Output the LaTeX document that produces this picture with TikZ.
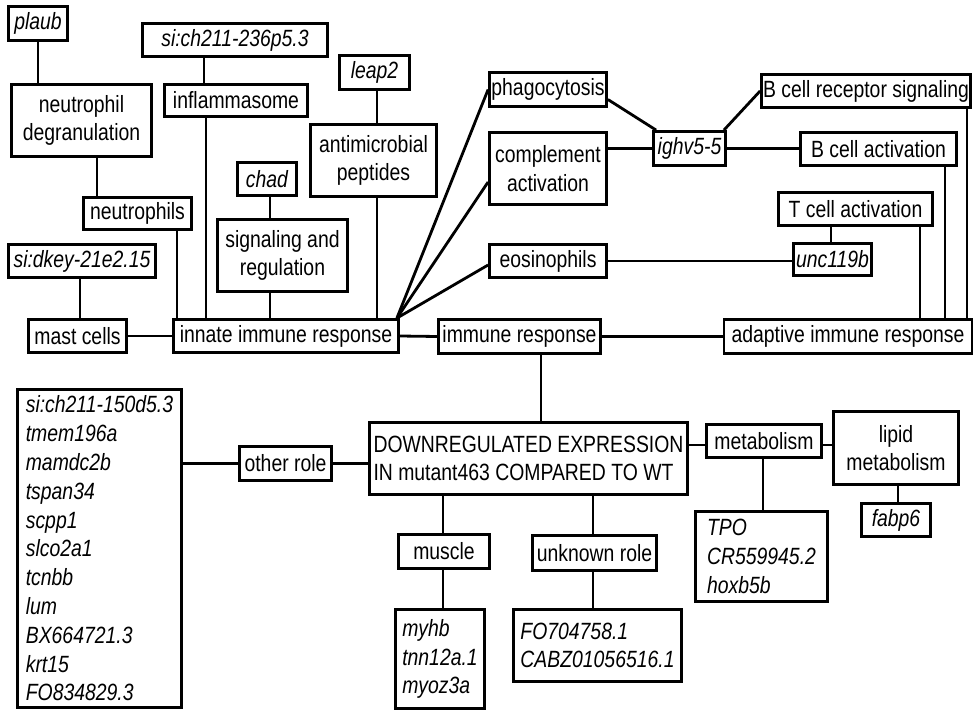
\documentclass[tikz,border=0pt]{standalone}
\usepackage{fontspec}
\setmainfont{Liberation Sans}[FakeStretch=0.825]
\usepackage{tikz}

\begin{document}
\fontsize{23.5}{28.8}\selectfont
\begin{tikzpicture}[x=1pt,y=-1pt,line width=2.8pt,
  box/.style={draw,inner sep=0pt,align=center},
  gene/.style={box,font=\itshape},
  genelist/.style={box,font=\itshape,align=left},
  wh/.style 2 args={minimum width=#1pt,minimum height=#2pt}]
\useasboundingbox (0,0) rectangle (976,711);

\node[gene,wh={59}{34}] (plaub) at (38,23.5) {plaub};
\node[box,wh={140}{72}] (ndeg) at (81.5,120.5) {neutrophil\\degranulation};
\node[gene,wh={185}{33}] (sich) at (235,40) {si:ch211-236p5.3};
\node[box,wh={143}{32}] (inflam) at (236,100.5) {inflammasome};
\node[gene,wh={70}{34}] (leap) at (374.5,72.5) {leap2};
\node[box,wh={126}{72}] (amp) at (373.5,160.5) {antimicrobial\\peptides};
\node[gene,wh={59}{33}] (chad) at (267,179) {chad};
\node[box,wh={130}{72}] (sigreg) at (282.5,255.5) {signaling and\\regulation};
\node[box,wh={108}{32}] (neutro) at (137.5,213.5) {neutrophils};
\node[gene,wh={147}{33}] (sidkey) at (82,261) {si:dkey-21e2.15};
\node[box,wh={98}{33}] (mast) at (77.5,336) {mast cells};
\node[box,wh={225}{33}] (innate) at (286,336) {innate immune response};

\node[box,wh={117}{34}] (phag) at (548,89.5) {phagocytosis};
\node[box,wh={117}{72}] (compl) at (548,168.5) {complement\\activation};
\node[box,wh={117}{33}] (eos) at (548,261) {eosinophils};
\node[box,wh={162}{34}] (immune) at (519.5,336.5) {immune response};
\node[gene,wh={72}{34}] (ighv) at (689.5,148.5) {ighv5-5};
\node[box,wh={209}{33}] (bcr) at (866,91) {B cell receptor signaling};
\node[box,wh={156}{33}] (bact) at (878.5,149) {B cell activation};
\node[box,wh={154}{33}] (tact) at (855.5,209) {T cell activation};
\node[gene,wh={78}{32}] (unc) at (832.5,259.5) {unc119b};
\node[box,wh={248}{34}] (adapt) at (848,336.5) {adaptive immune response};

\node[genelist,wh={164}{318}] (genes) at (99.5,548.5) {si:ch211-150d5.3\\tmem196a\\mamdc2b\\tspan34\\scpp1\\slco2a1\\tcnbb\\lum\\BX664721.3\\krt15\\FO834829.3};
\node[box,wh={92}{34}] (other) at (285.5,463.5) {other role};
\node[box,align=left,wh={318}{72}] (down) at (528.5,458.5) {DOWNREGULATED EXPRESSION\\IN mutant463 COMPARED TO WT};
\node[box,wh={115}{33}] (metab) at (764,441) {metabolism};
\node[box,wh={125}{73}] (lipid) at (896,448) {lipid\\metabolism};
\node[gene,wh={69}{33}] (fabp) at (896,520) {fabp6};
\node[genelist,wh={132}{90}] (tpo) at (761.5,556.5) {TPO\\CR559945.2\\hoxb5b};
\node[box,wh={91}{34}] (muscle) at (444,551.5) {muscle};
\node[genelist,wh={89}{99}] (myhb) at (440,659) {myhb\\tnn12a.1\\myoz3a};
\node[box,wh={124}{35}] (unknown) at (594.5,553) {unknown role};
\node[genelist,wh={168}{72}] (fo) at (597.5,645.5) {FO704758.1\\CABZ01056516.1};

\draw (38,0 |- plaub.south) -- (38,0 |- ndeg.north);
\draw (97,0 |- ndeg.south) -- (97,0 |- neutro.north);
\draw (177,0 |- neutro.south) -- (177,0 |- innate.north);
\draw (204,0 |- sich.south) -- (204,0 |- inflam.north);
\draw (206,0 |- inflam.south) -- (206,0 |- innate.north);
\draw (270,0 |- chad.south) -- (270,0 |- sigreg.north);
\draw (270,0 |- sigreg.south) -- (270,0 |- innate.north);
\draw (377,0 |- leap.south) -- (377,0 |- amp.north);
\draw (377,0 |- amp.south) -- (377,0 |- innate.north);
\draw (80,0 |- sidkey.south) -- (80,0 |- mast.north);
\draw (mast.east) -- (innate.west);
\draw (innate.east) -- (immune.west);
\draw (immune.east) -- (adapt.west);

\draw ([xshift=-3pt]innate.north east) -- (phag.west);
\draw ([xshift=-3pt]innate.north east) -- ([yshift=-13.5pt]compl.west);
\draw ([xshift=-3pt]innate.north east) -- ([yshift=-4pt]eos.west);
\draw ([yshift=-10pt]phag.east) -- ([xshift=4pt]ighv.north west);
\draw (compl.east |- ighv.west) -- (ighv.west);
\draw ([xshift=-3pt]ighv.north east) -- (bcr.west);
\draw (ighv.east) -- (bact.west |- ighv.east);
\draw (eos.east) -- (unc.west |- eos.east);
\draw (831,0 |- unc.north) -- (831,0 |- tact.south);
\draw (920,0 |- tact.south) -- (920,0 |- adapt.north);
\draw (945,0 |- bact.south) -- (945,0 |- adapt.north);
\draw (967,0 |- bcr.south) -- (967,0 |- adapt.north);

\draw (541,0 |- immune.south) -- (541,0 |- down.north);
\draw (genes.east |- other.west) -- (other.west);
\draw (other.east) -- (down.west |- other.east);
\draw (443,0 |- down.south) -- (443,0 |- muscle.north);
\draw (443,0 |- muscle.south) -- (443,0 |- myhb.north);
\draw (593,0 |- down.south) -- (593,0 |- unknown.north);
\draw (593,0 |- unknown.south) -- (593,0 |- fo.north);
\draw (down.east |- 0,445) -- (metab.west |- 0,445);
\draw (metab.east |- 0,445) -- (lipid.west |- 0,445);
\draw (763,0 |- metab.south) -- (763,0 |- tpo.north);
\draw (898,0 |- lipid.south) -- (898,0 |- fabp.north);
\end{tikzpicture}
\end{document}
